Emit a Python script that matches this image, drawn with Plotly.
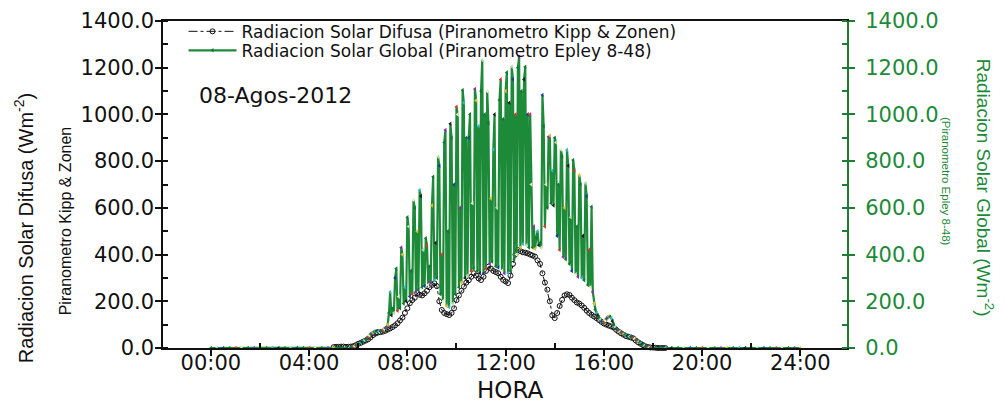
import plotly.graph_objects as go

# ---------------- DATA ----------------
# Global radiation (Epley 8-48), W/m2, sampled every 0.05 h from 05:30 to 18:00
global_inicio = 5.5
global_paso = 0.05
global_dia = [
    0, 0, 0, 1, 2, 4, 6, 9, 12, 15,                                                        # 05:30-05:57
    18, 21, 24, 27, 30, 34, 38, 43, 48, 54, 60, 64, 67, 70, 72, 73, 71, 70, 72, 75,        # 06
    78, 82, 86, 90, 100, 150, 240, 140, 170, 150, 300, 340, 160, 220, 170, 430, 400, 190, 260, 200,  # 07
    560, 520, 220, 330, 230, 634, 600, 240, 500, 250, 676, 650, 260, 420, 265, 470, 440, 270, 350, 280,  # 08
    610, 733, 290, 450, 300, 819, 780, 230, 400, 200, 880, 933, 180, 500, 175, 960, 900, 190, 700, 230,  # 09
    1033, 1000, 260, 600, 280, 1104, 1050, 300, 900, 310, 900, 1000, 330, 620, 340, 1109, 1060, 330, 950, 320,  # 10
    1100, 1233, 320, 1000, 340, 1100, 963, 360, 640, 370, 850, 1000, 350, 600, 345, 1062, 1150, 330, 980, 320,  # 11
    1100, 1180, 320, 1050, 330, 1204, 1150, 380, 1000, 400, 1200, 1247, 430, 1100, 445, 1150, 1204, 440, 1000, 430,  # 12
    1000, 700, 430, 520, 425, 470, 500, 440, 450, 430, 1083, 950, 520, 700, 600, 904, 910, 620, 760, 610,  # 13
    900, 880, 480, 700, 420, 850, 820, 390, 600, 380, 848, 780, 360, 560, 330, 805, 760, 315, 520, 305,  # 14
    740, 700, 300, 480, 290, 706, 650, 270, 420, 260, 605, 240, 190, 165, 150, 140, 132, 122, 114, 108,  # 15
    110, 118, 125, 132, 136, 134, 128, 115, 100, 90, 82, 76, 72, 68, 66, 64, 60, 57, 54, 52,  # 16
    50, 49, 48, 46, 43, 39, 34, 30, 26, 23, 20, 16, 13, 10, 7, 5, 3, 2, 1, 0,  # 17
    0,  # 18:00
]
# night hours (global = 0)
hora_noche_manana = [0.0, 0.25, 0.5, 0.75, 1.0, 1.25, 1.5, 1.75, 2.0, 2.25, 2.5, 2.75,
                     3.0, 3.25, 3.5, 3.75, 4.0, 4.25, 4.5, 4.75, 5.0, 5.25]
global_noche_manana = [0, 0, 0, 0, 0, 0, 0, 0, 0, 0, 0, 0, 0, 0, 0, 0, 0, 0, 0, 0, 0, 0]
hora_noche_tarde = [18.25, 18.5, 18.75, 19.0, 19.25, 19.5, 19.75, 20.0, 20.25, 20.5, 20.75, 21.0,
                    21.25, 21.5, 21.75, 22.0, 22.25, 22.5, 22.75, 23.0, 23.25, 23.5, 23.75, 24.0]
global_noche_tarde = [0, 0, 0, 0, 0, 0, 0, 0, 0, 0, 0, 0, 0, 0, 0, 0, 0, 0, 0, 0, 0, 0, 0, 0]

# Diffuse radiation (Kipp & Zonen), W/m2, sampled every 0.1 h from 05:00 to 18:50
difusa_inicio = 5.0
difusa_paso = 0.1
difusa_dia = [
    4, 5, 5, 6, 6, 5, 5, 6, 8, 12,                 # 05
    18, 22, 27, 32, 37, 45, 55, 62, 66, 68,        # 06
    70, 74, 79, 84, 90, 97, 106, 118, 130, 150,    # 07
    170, 192, 205, 215, 235, 228, 225, 234, 245, 260,  # 08
    270, 277, 265, 200, 163, 150, 145, 141, 150, 170,  # 09
    205, 225, 245, 263, 280, 290, 305, 320, 310, 298,  # 10
    291, 305, 330, 348, 340, 330, 325, 320, 305, 292,  # 11
    285, 278, 310, 360, 400, 420, 415, 410, 408, 405,  # 12
    400, 396, 391, 375, 360, 320, 280, 250, 200, 140,  # 13
    128, 150, 180, 206, 225, 230, 227, 215, 205, 195,  # 14
    190, 182, 172, 160, 150, 142, 135, 128, 120, 112,  # 15
    105, 100, 96, 92, 88, 78, 70, 63, 57, 51,          # 16
    48, 45, 41, 32, 24, 18, 12, 7, 4, 2,               # 17
    2, 1, 0, 0, 0, 0,                                   # 18
]

# tick labels
horas_ticks = [0, 4, 8, 12, 16, 20, 24]
horas_labels = ["00:00", "04:00", "08:00", "12:00", "16:00", "20:00", "24:00"]
horas_minor = [2, 6, 10, 14, 18, 22]

nombre_difusa = "Radiacion Solar Difusa (Piranometro Kipp & Zonen)"
nombre_global = "Radiacion Solar Global (Piranometro Epley 8-48)"
fecha = "08-Agos-2012"

# ---------------- BUILD SERIES ----------------
hora_global = hora_noche_manana + [round(global_inicio + global_paso * i, 2) for i in range(len(global_dia))] + hora_noche_tarde
valores_global = global_noche_manana + global_dia + global_noche_tarde
hora_difusa = [round(difusa_inicio + difusa_paso * i, 2) for i in range(len(difusa_dia))]
valores_difusa = difusa_dia

# ---------------- STYLE ----------------
VERDE = "#1c8a38"
VERDE_EJE = "#1f7d33"
NEGRO = "#111111"
FONT_TXT = "DejaVu Sans"
FONT_ROT = "Liberation Sans"
paleta = ["#0f7a2c", "#b0e0a0", "#1a3f9a", "#0f7a2c", "#d23a2a", "#e8f0c0",
          "#0f7a2c", "#8a2fb0", "#e0c030", "#0f7a2c", "#30b8c8", "#202020"]
colores_global = [paleta[i % len(paleta)] for i in range(len(valores_global))]

fig = go.Figure()
fig.add_trace(go.Scatter(
    x=hora_difusa, y=valores_difusa, name=nombre_difusa, mode="lines+markers",
    line=dict(color=NEGRO, width=1, dash="dashdot"),
    marker=dict(symbol="circle-open", size=5, color=NEGRO, line=dict(width=1)),
    yaxis="y", xaxis="x", legend="legend", cliponaxis=False,
))
fig.add_trace(go.Scatter(
    x=hora_global, y=valores_global, name=nombre_global, mode="lines+markers",
    line=dict(color=VERDE, width=2.2),
    marker=dict(symbol="triangle-left", size=4, color=colores_global, line=dict(width=0)),
    yaxis="y2", xaxis="x", legend="legend2", cliponaxis=False,
))

yr = [0, 1400]
xr = [-1.95, 25.9]
tickfont_black = dict(family=FONT_TXT, size=21, color=NEGRO)
tickfont_green = dict(family=FONT_TXT, size=21, color=VERDE)
legend_style = dict(xanchor="left", yanchor="middle", bgcolor="rgba(0,0,0,0)",
                    font=dict(family=FONT_TXT, size=17, color=NEGRO), itemwidth=48,
                    borderwidth=0)

fig.update_layout(
    width=1004, height=402,
    margin=dict(l=163, r=157, t=21, b=54),
    paper_bgcolor="white", plot_bgcolor="white",
    showlegend=True,
    legend=dict(x=0.03, y=0.967, **legend_style),
    legend2=dict(x=0.03, y=0.909, **legend_style),
    xaxis=dict(range=xr, tickmode="array", tickvals=horas_ticks, ticktext=horas_labels,
               ticks="outside", ticklen=6, tickwidth=1.5, tickcolor=NEGRO, automargin=False,
               showline=True, linecolor=NEGRO, linewidth=1.5, mirror=True,
               showgrid=False, zeroline=False, tickfont=tickfont_black, ticklabelstandoff=-11,
               minor=dict(tickmode="array", tickvals=horas_minor, ticks="inside", ticklen=5, tickcolor=NEGRO)),
    xaxis2=dict(range=xr, overlaying="x", anchor="y", side="bottom", tickmode="array",
                tickvals=horas_ticks, ticks="inside", ticklen=6, tickwidth=1.5, tickcolor=NEGRO,
                showticklabels=False, showline=False, showgrid=False, zeroline=False, automargin=False),
    xaxis3=dict(range=xr, overlaying="x", anchor="y", side="top", tickmode="array",
                tickvals=horas_ticks, ticks="inside", ticklen=6, tickwidth=1.5, tickcolor=NEGRO,
                showticklabels=False, showline=False, showgrid=False, zeroline=False, automargin=False,
                minor=dict(tickmode="array", tickvals=horas_minor, ticks="inside", ticklen=5, tickcolor=NEGRO)),
    yaxis=dict(range=yr, dtick=200, tick0=0, tickformat=".1f", ticks="outside", ticklen=6,
               tickwidth=1.5, tickcolor=NEGRO, showline=True, linecolor=NEGRO, linewidth=1.5,
               showgrid=False, zeroline=False, tickfont=tickfont_black, ticklabelstandoff=-3,
               automargin=False,
               minor=dict(dtick=100, ticks="inside", ticklen=5, tickcolor=NEGRO)),
    yaxis3=dict(range=yr, overlaying="y", anchor="x", side="left", dtick=200, tick0=0,
                ticks="inside", ticklen=6, tickwidth=1.5, tickcolor=NEGRO, automargin=False,
                showticklabels=False, showline=False, showgrid=False, zeroline=False),
    yaxis2=dict(range=yr, overlaying="y", anchor="x", side="right", dtick=200, tick0=0,
                tickformat=".1f", ticks="outside", ticklen=6, tickwidth=1.5, tickcolor=VERDE_EJE,
                showline=True, linecolor=VERDE_EJE, linewidth=2, showgrid=False, zeroline=False,
                tickfont=tickfont_green, ticklabelstandoff=6, automargin=False,
                minor=dict(dtick=100, ticks="inside", ticklen=5, tickcolor=VERDE_EJE)),
    yaxis4=dict(range=yr, overlaying="y", anchor="x", side="right", dtick=200, tick0=0,
                ticks="inside", ticklen=6, tickwidth=1.5, tickcolor=VERDE_EJE, automargin=False,
                showticklabels=False, showline=False, showgrid=False, zeroline=False),
)

anots = [
    dict(text="Radiacion Solar Difusa (Wm<sup>-2</sup>)", x=-0.203, y=0.367, textangle=-90,
         font=dict(family=FONT_ROT, size=20, color=NEGRO)),
    dict(text="Piranometro Kipp & Zonen", x=-0.143, y=0.388, textangle=-90,
         font=dict(family=FONT_ROT, size=16, color=NEGRO)),
    dict(text="Radiacion Solar Global (Wm<sup>-2</sup>)", x=1.2018, y=0.49, textangle=90,
         font=dict(family=FONT_ROT, size=19, color=VERDE)),
    dict(text="(Piranometro Epley 8-48)", x=1.1447, y=0.508, textangle=90,
         font=dict(family=FONT_ROT, size=11.5, color=VERDE)),
    dict(text="HORA", x=0.507, y=-0.127, font=dict(family=FONT_TXT, size=23, color=NEGRO)),
    dict(text=fecha, x=0.05, y=0.771, xanchor="left",
         font=dict(family=FONT_TXT, size=22, color=NEGRO)),
]
for a in anots:
    a.setdefault("xanchor", "center")
    fig.add_annotation(xref="paper", yref="paper", showarrow=False, yanchor="middle", **a)

fig.write_html("out.html", config={"displayModeBar": False},
               post_script="document.body.style.margin='0px';")
